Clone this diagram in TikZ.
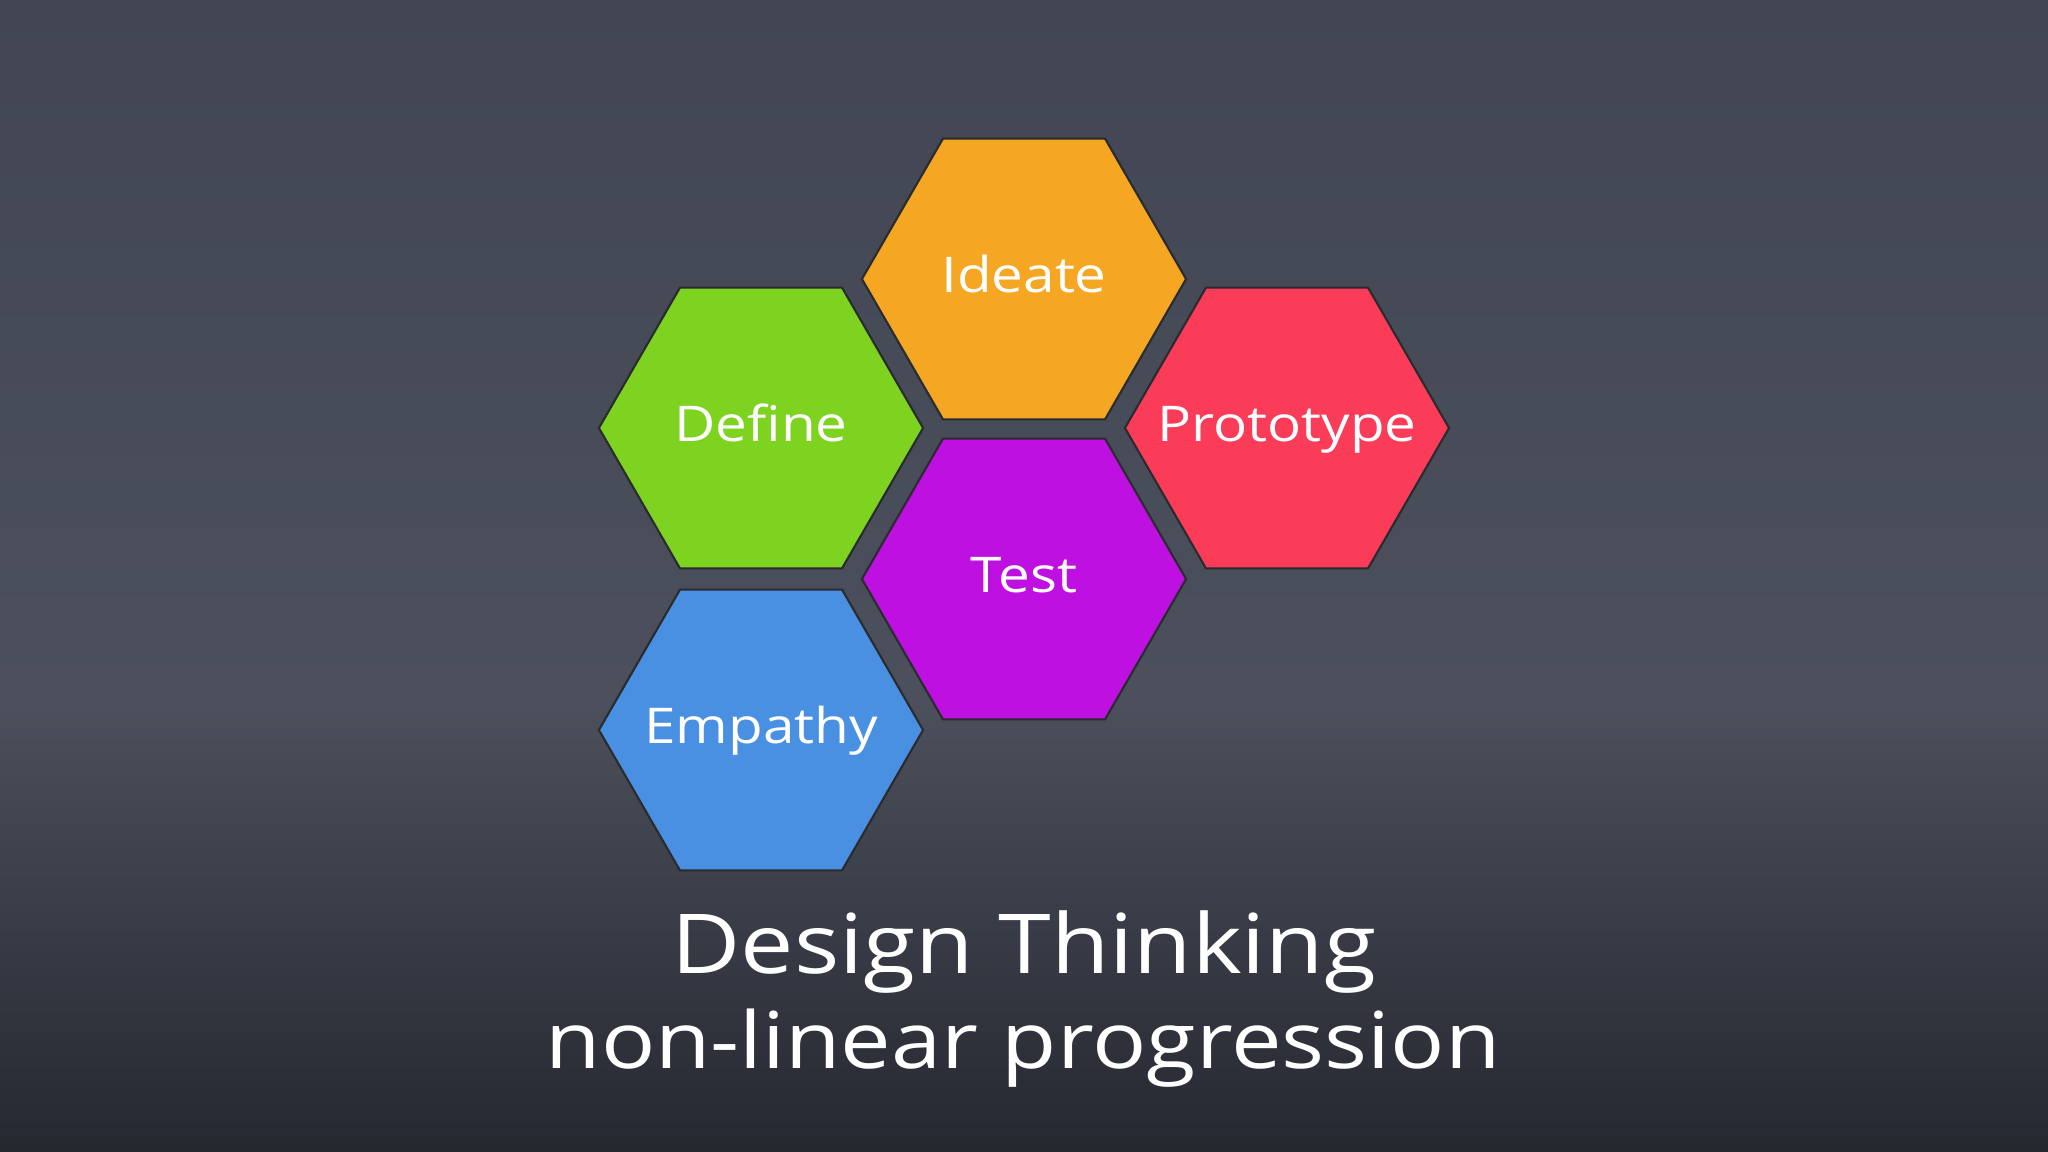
\documentclass[tikz,border=0pt]{standalone}
\usepackage{fontspec}
\setmainfont[FakeStretch=1.15]{Open Sans}
\usetikzlibrary{shapes.geometric}

\definecolor{boardtop}{HTML}{424654}
\definecolor{boardmid}{HTML}{4B505C}
\definecolor{boardbot}{HTML}{262830}
\definecolor{hexline}{HTML}{2A2B2E}
\definecolor{ideate}{HTML}{F5A623}
\definecolor{define}{HTML}{7ED321}
\definecolor{prototype}{HTML}{FB3C59}
\definecolor{test}{HTML}{BE10E0}
\definecolor{empathy}{HTML}{4A90E2}

% zero width label, so that the hexagon keeps its size
\newcommand\hexlabel[1]{\makebox[0pt]{#1}}

\tikzset{hexa/.style={regular polygon,regular polygon sides=6,minimum size=3.24cm,
    inner sep=0pt,draw=hexline,line width=0.6pt,text=white,
    font=\fontsize{14}{16}\selectfont,text height=1.42ex,text depth=0pt},
  chalk/.style={text=white,anchor=base,inner sep=0pt,font=\fontsize{23.5}{28}\selectfont}}

\begin{document}
\begin{tikzpicture}[x=0.01cm,y=-0.01cm]
      \useasboundingbox (0,0) rectangle (2048,1152);
      \shade[top color=boardtop,bottom color=boardmid] (0,0) rectangle (2048,701);
      \shade[top color=boardmid,bottom color=boardbot] (0,700) rectangle (2048,1152);

      \node[hexa,fill=ideate] (ideate) at (1024,279) {\hexlabel{Ideate}};
      \node[hexa,fill=define] (define) at (761,428) {\hexlabel{Define}};
      \node[hexa,fill=prototype] (prototype) at (1287,428) {\hexlabel{Prototype}};
      \node[hexa,fill=test] (test) at (1024,579) {\hexlabel{Test}};
      \node[hexa,fill=empathy] (empathy) at (761,730) {\hexlabel{Empathy}};

      \node[chalk] (title) at (1024,973) {Design Thinking};
      \node[chalk,font=\fontsize{22.3}{28}\selectfont] (subtitle) at (1023,1068) {non-linear progression};
    \end{tikzpicture}
\end{document}
